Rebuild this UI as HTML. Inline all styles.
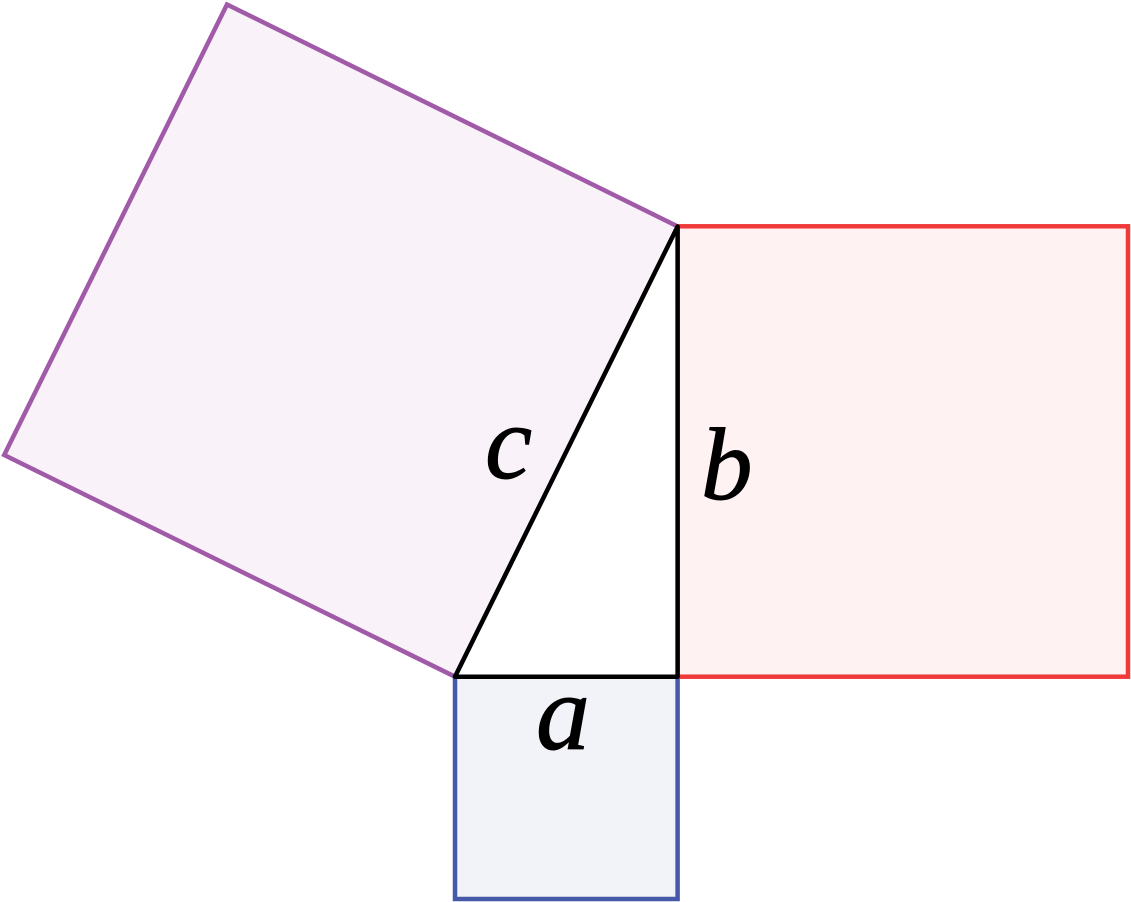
<!DOCTYPE html>
<html>
<head>
<meta charset="utf-8">
<style>
html,body{margin:0;padding:0;background:#fff;width:1131px;height:902px;overflow:hidden}
svg{display:block}
text{font-family:"Liberation Serif",serif;font-style:italic;fill:#000;stroke:#000;stroke-width:1}
</style>
</head>
<body>
<svg width="1131" height="902" viewBox="0 0 1131 902" xmlns="http://www.w3.org/2000/svg">
<polygon points="227,4.5 677.8,226.5 455,676.7 4.2,455" fill="#f9f2f8" stroke="#a05aa8" stroke-width="4.5" stroke-linejoin="miter"/>
<rect x="677.6" y="226.3" width="450.4" height="450.4" fill="#fff2f2" stroke="#f03a3a" stroke-width="4.5"/>
<rect x="455" y="676.7" width="222.6" height="222.3" fill="#f2f3f8" stroke="#4659a8" stroke-width="4.5"/>
<polygon points="677.6,226.5 677.6,676.7 455,676.7" fill="#fff" stroke="#000" stroke-width="4.5" stroke-linejoin="round"/>
<text x="485" y="478" font-size="106">c</text>
<text x="701" y="499" font-size="103">b</text>
<text x="536" y="749" font-size="108">a</text>
</svg>
</body>
</html>
